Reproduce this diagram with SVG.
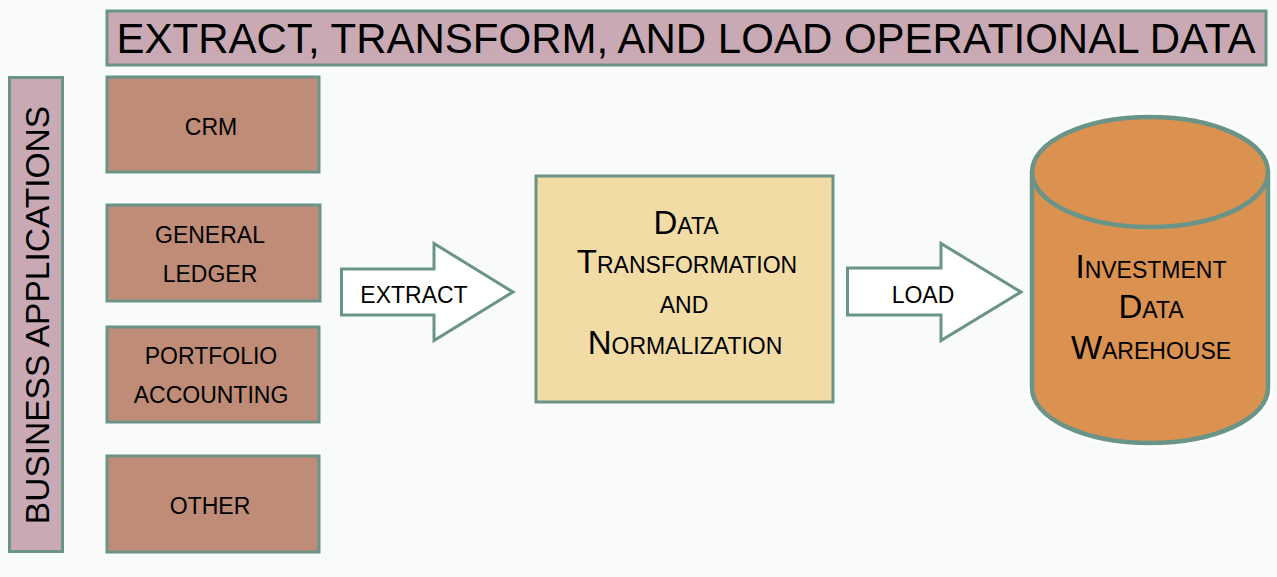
<svg xmlns="http://www.w3.org/2000/svg" width="1277" height="577" viewBox="0 0 1277 577">
<style>
.t{font-family:"Liberation Sans",Arial,sans-serif;fill:#000;text-anchor:middle}
.box{stroke:#6b9488;stroke-width:3}
.app{fill:#bf8c77}
.pink{fill:#c8a9b4}
.arrow{fill:#ffffff;stroke:#6b9488;stroke-width:3;stroke-linejoin:miter}
.s{font-size:23px}
.L{font-size:33px}
</style>
<rect x="0" y="0" width="1277" height="577" fill="#f9fbfa"/>
<g id="title">
<rect class="box pink" x="107" y="11" width="1159" height="54"/>
<text class="t" x="686" y="53" font-size="42">EXTRACT, TRANSFORM, AND LOAD OPERATIONAL DATA</text>
</g>
<g id="business-applications">
<rect class="box pink" x="9.5" y="77.5" width="53" height="474"/>
<text class="t" font-size="33.5" transform="translate(49,315) rotate(-90)">BUSINESS APPLICATIONS</text>
</g>
<g id="crm">
<rect class="box app" x="107" y="77" width="212" height="95"/>
<text class="t s" x="211" y="135">CRM</text>
</g>
<g id="general-ledger">
<rect class="box app" x="107" y="205" width="213" height="96"/>
<text class="t s" x="210" y="243">GENERAL</text>
<text class="t s" x="210" y="282">LEDGER</text>
</g>
<g id="portfolio-accounting">
<rect class="box app" x="107" y="327" width="212" height="95"/>
<text class="t s" x="211" y="364">PORTFOLIO</text>
<text class="t s" x="211" y="403">ACCOUNTING</text>
</g>
<g id="other">
<rect class="box app" x="107" y="456" width="212" height="96"/>
<text class="t s" x="210" y="514">OTHER</text>
</g>
<g id="transformation">
<rect class="box" fill="#f2dca6" x="536" y="176" width="297" height="226"/>
<text class="t" x="686" y="234"><tspan class="L">D</tspan><tspan class="s">ATA</tspan></text>
<text class="t" x="687" y="273"><tspan class="L">T</tspan><tspan class="s">RANSFORMATION</tspan></text>
<text class="t s" x="684" y="313">AND</text>
<text class="t" x="685" y="354"><tspan class="L">N</tspan><tspan class="s">ORMALIZATION</tspan></text>
</g>
<g id="warehouse">
<path d="M1032,172 L1032,388 A118,55 0 0 0 1268,388 L1268,172" fill="#db9150" stroke="#ffffff" stroke-width="10" stroke-opacity="0.8"/>
<ellipse cx="1150" cy="172" rx="118" ry="55" fill="none" stroke="#ffffff" stroke-width="10" stroke-opacity="0.8"/>
<path d="M1032,172 L1032,388 A118,55 0 0 0 1268,388 L1268,172" fill="#db9150" stroke="#6b9488" stroke-width="4.5"/>
<ellipse cx="1150" cy="172" rx="118" ry="55" fill="#db9150" stroke="#6b9488" stroke-width="4.5"/>
<text class="t" x="1151" y="278"><tspan class="L">I</tspan><tspan class="s">NVESTMENT</tspan></text>
<text class="t" x="1151" y="318"><tspan class="L">D</tspan><tspan class="s">ATA</tspan></text>
<text class="t" x="1151" y="359"><tspan class="L">W</tspan><tspan class="s">AREHOUSE</tspan></text>
</g>
<g id="connectors">
<g id="extract">
<polygon class="arrow" points="341.5,269 434,269 434,243.5 513,292 434,340.5 434,315 341.5,315"/>
<text class="t s" x="414" y="303">EXTRACT</text>
</g>
<g id="load">
<polygon class="arrow" points="847.5,268 941,268 941,243.5 1021,292 941,340.5 941,315 847.5,315"/>
<text class="t s" x="923" y="303">LOAD</text>
</g>
</g>
</svg>
